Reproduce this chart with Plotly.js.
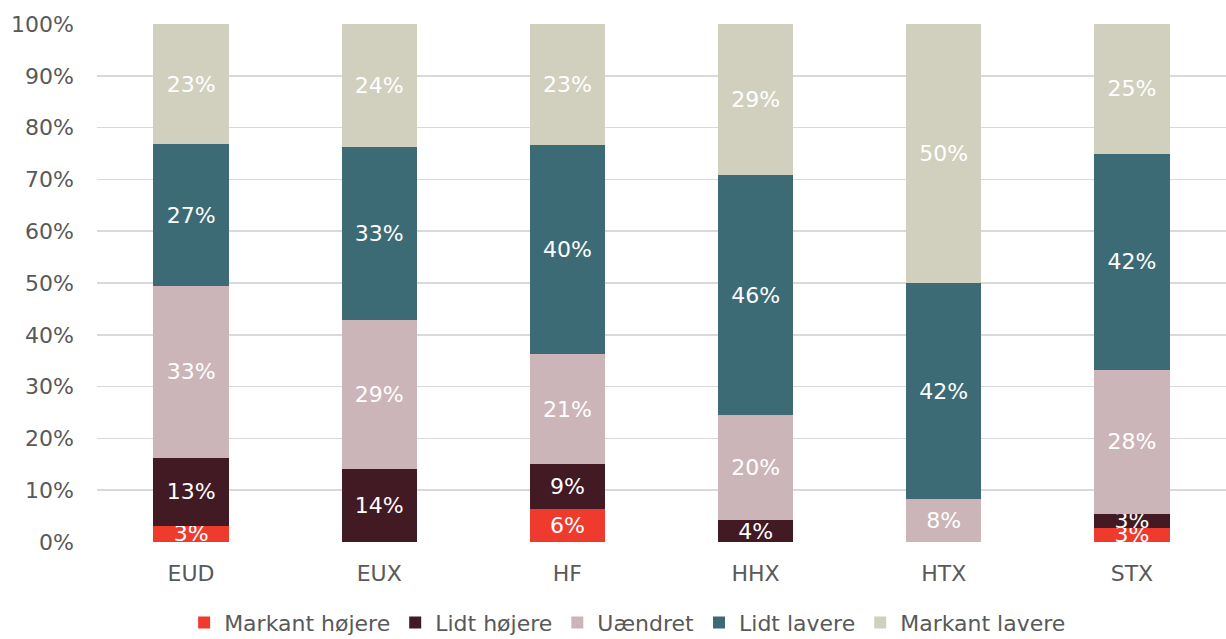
<!DOCTYPE html>
<html>
<head>
<meta charset="utf-8">
<script src="https://cdn.plot.ly/plotly-3.0.1.min.js"></script>
<style>html,body{margin:0;padding:0;background:#fff;}#chart{width:1226px;height:639px;}</style>
</head>
<body>
<div id="chart"></div>
<script>
const categories = ["EUD", "EUX", "HF", "HHX", "HTX", "STX"];
const seriesNames = ["Markant højere", "Lidt højere", "Uændret", "Lidt lavere", "Markant lavere"];
const markantHojere = [3.1, 0, 6.3, 0, 0, 2.8];
const lidtHojere = [13.2, 14.1, 8.7, 4.2, 0, 2.7];
const uaendret = [33.1, 28.7, 21.2, 20.3, 8.3, 27.8];
const lidtLavere = [27.4, 33.4, 40.4, 46.3, 41.7, 41.7];
const markantLavere = [23.2, 23.8, 23.4, 29.2, 50.0, 25.0];
const tickValues = [0, 10, 20, 30, 40, 50, 60, 70, 80, 90, 100];
const tickLabels = ["0%", "10%", "20%", "30%", "40%", "50%", "60%", "70%", "80%", "90%", "100%"];

const colors = ["#EE3B2E", "#421A24", "#CBB5B8", "#3C6B76", "#D1D0BE"];
const allSeries = [markantHojere, lidtHojere, uaendret, lidtLavere, markantLavere];
const FONT = "DejaVu Sans";

const traces = allSeries.map((vals, i) => ({
  type: "bar",
  name: seriesNames[i],
  x: categories,
  y: vals,
  marker: {color: colors[i], line: {width: 0}},
  text: vals.map(v => v > 0 ? Math.round(v) + "%" : ""),
  textposition: "inside",
  insidetextanchor: "middle",
  textfont: {family: FONT, size: 22, color: "#ffffff"},
  hoverinfo: "skip"
}));

const layout = {
  width: 1226,
  height: 639,
  barmode: "stack",
  bargap: 0.6,
  margin: {l: 97, r: 0, t: 24, b: 97, autoexpand: false},
  paper_bgcolor: "#ffffff",
  plot_bgcolor: "#ffffff",
  font: {family: FONT, size: 22, color: "#595959"},
  uniformtext: {minsize: 22, mode: "show"},
  xaxis: {
    tickfont: {family: FONT, size: 22, color: "#595959"},
    showgrid: false,
    showline: false,
    zeroline: false,
    ticks: "",
    ticklabelstandoff: 16
  },
  yaxis: {
    range: [0, 100],
    tickvals: tickValues,
    ticktext: tickLabels,
    tickfont: {family: FONT, size: 22, color: "#595959"},
    showgrid: true,
    gridcolor: "#D9D9D9",
    gridwidth: 1.5,
    zeroline: false,
    showline: false,
    ticks: "",
    ticklabelstandoff: 22
  },
  legend: {
    orientation: "h",
    x: 0.47,
    xanchor: "center",
    y: -0.156,
    yanchor: "middle",
    itemwidth: 30,
    font: {family: FONT, size: 22, color: "#595959"},
    traceorder: "normal"
  },
  showlegend: true
};

Plotly.newPlot("chart", traces, layout, {staticPlot: true, displayModeBar: false});
</script>
</body>
</html>
